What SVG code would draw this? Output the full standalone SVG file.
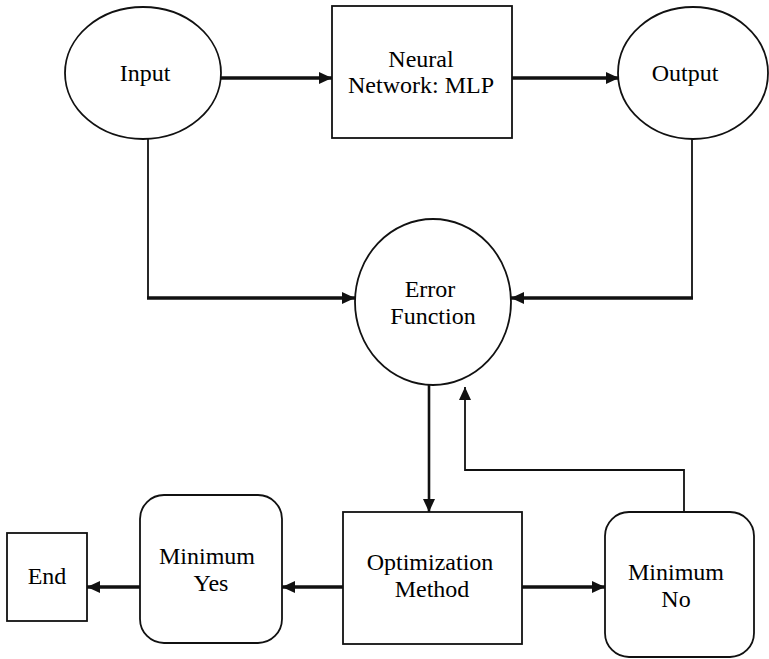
<svg xmlns="http://www.w3.org/2000/svg" width="769" height="659" viewBox="0 0 769 659">
<defs>
<marker id="ah" markerUnits="userSpaceOnUse" markerWidth="13" markerHeight="12" refX="13" refY="6" orient="auto">
<path d="M0,0 L13,6 L0,12 z" fill="#111"/>
</marker>
<style>
.node{fill:#fff;stroke:#111;stroke-width:1.8}
.thick{fill:none;stroke:#111;stroke-width:3.5}
.mid{fill:none;stroke:#111;stroke-width:2.6}
.thin{fill:none;stroke:#111;stroke-width:1.8}
</style>
</defs>
<rect width="769" height="659" fill="#fff"/>
<g id="connectors">
<line class="thick" x1="221" y1="78" x2="332" y2="78" marker-end="url(#ah)"/>
<line class="thick" x1="512" y1="78" x2="619" y2="78" marker-end="url(#ah)"/>
<path class="thin" d="M148,139 V298"/>
<path class="thick" d="M147,298 H355" marker-end="url(#ah)"/>
<path class="thin" d="M692,139 V298"/>
<path class="thick" d="M693,298 H511" marker-end="url(#ah)"/>
<path class="mid" d="M429,385 V512" marker-end="url(#ah)"/>
<path class="thin" d="M684,512 V470 H465 V387" marker-end="url(#ah)"/>
<path class="thick" d="M343,587 H282" marker-end="url(#ah)"/>
<path class="thick" d="M140,587 H87" marker-end="url(#ah)"/>
<path class="thick" d="M522,587 H605" marker-end="url(#ah)"/>
</g>
<g id="input">
<ellipse class="node" cx="143" cy="73" rx="78" ry="66"/>
<text x="145" y="81" font-family="'Liberation Serif', serif" font-size="24" text-anchor="middle">Input</text>
</g>
<g id="nn">
<rect class="node" x="332" y="6" width="180" height="132"/>
<text x="421" y="67" font-family="'Liberation Serif', serif" font-size="24" text-anchor="middle">Neural</text>
<text x="421" y="93" font-family="'Liberation Serif', serif" font-size="24" text-anchor="middle">Network: MLP</text>
</g>
<g id="output">
<ellipse class="node" cx="693" cy="73" rx="75" ry="66"/>
<text x="685" y="81" font-family="'Liberation Serif', serif" font-size="24" text-anchor="middle">Output</text>
</g>
<g id="error">
<ellipse class="node" cx="433" cy="302" rx="78" ry="83"/>
<text x="430" y="297" font-family="'Liberation Serif', serif" font-size="24" text-anchor="middle">Error</text>
<text x="433" y="324" font-family="'Liberation Serif', serif" font-size="24" text-anchor="middle">Function</text>
</g>
<g id="opt">
<rect class="node" x="343" y="512" width="179" height="132"/>
<text x="430" y="570" font-family="'Liberation Serif', serif" font-size="24" text-anchor="middle">Optimization</text>
<text x="432" y="597" font-family="'Liberation Serif', serif" font-size="24" text-anchor="middle">Method</text>
</g>
<g id="minyes">
<rect class="node" x="140" y="495" width="142" height="148" rx="24" ry="24"/>
<text x="207" y="564" font-family="'Liberation Serif', serif" font-size="24" text-anchor="middle">Minimum</text>
<text x="211" y="591" font-family="'Liberation Serif', serif" font-size="24" text-anchor="middle">Yes</text>
</g>
<g id="end">
<rect class="node" x="7" y="533" width="80" height="88"/>
<text x="47" y="584" font-family="'Liberation Serif', serif" font-size="24" text-anchor="middle">End</text>
</g>
<g id="minno">
<rect class="node" x="605" y="512" width="149" height="145" rx="24" ry="24"/>
<text x="676" y="580" font-family="'Liberation Serif', serif" font-size="24" text-anchor="middle">Minimum</text>
<text x="676" y="607" font-family="'Liberation Serif', serif" font-size="24" text-anchor="middle">No</text>
</g>
</svg>
